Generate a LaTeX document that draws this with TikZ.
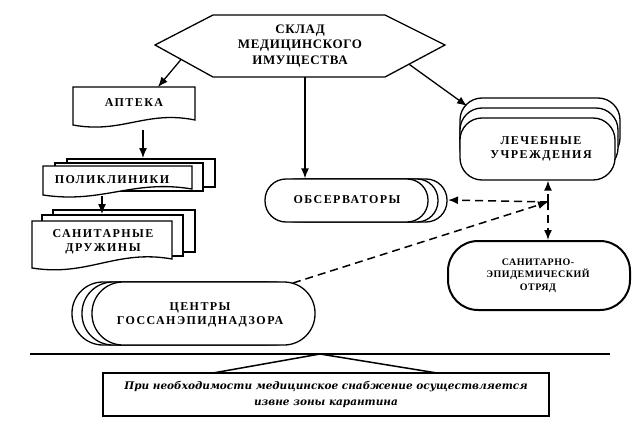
\documentclass[tikz,border=0pt]{standalone}
\usepackage{fontspec}
\setmainfont{Liberation Serif}
\newfontfamily\lblfont[LetterSpace=12]{Liberation Serif}
\newfontfamily\hexfont[LetterSpace=5]{Liberation Serif}
\newfontfamily\sepfont[LetterSpace=5]{Liberation Serif}
\newfontfamily\notefont{DejaVu Serif}
\usetikzlibrary{arrows.meta,calc}
\newcommand\docshape[5]{%
  \draw[box] (#1,#2) -- (#3,#2) -- (#3,#5)
    .. controls ({#1+0.6*(#3-#1)},{#5-10}) and ({#1+0.4*(#3-#1)},{#4+9}) .. (#1,#4) -- cycle;}
\begin{document}
\begin{tikzpicture}[x=1pt,y=-1pt,line width=1.3pt,
  box/.style={draw=black,fill=white},
  lbl/.style={font=\lblfont\bfseries\fontsize{12}{14}\selectfont,align=center,inner sep=0pt},
  stad/.style={box,inner sep=0pt},
  arr/.style={-{Latex[length=10pt,width=8pt]}},
  dsh/.style={arr,line width=1.5pt,dash pattern=on 8pt off 5pt},
]
\useasboundingbox (0,0) rectangle (642,433);

% hexagon
\draw[box] (155,45) coordinate (hexW) -- (213,15) -- (385,15) -- (445,45) coordinate (hexE)
  -- (385,77) coordinate (hexSE) -- (213,77) coordinate (hexSW) -- cycle;
\node[lbl,font=\hexfont\bfseries\fontsize{13}{15.5}\selectfont] (skl) at (300,46) {СКЛАД\\МЕДИЦИНСКОГО\\ИМУЩЕСТВА};
\coordinate (sklA) at ($(hexW)!0.45!(hexSW)$);
\coordinate (sklB) at ($(hexE)!0.6!(hexSE)$);
\coordinate (sklC) at (305,77);

% apteka
\docshape{73}{87}{195}{125}{120}
\node[lbl] (apt) at (134,103) {АПТЕКА};
\coordinate (aptT) at (158,87);
\coordinate (aptB) at (143,130);

% polikliniki
\draw[box] (67,159) rectangle (215,187);
\draw[box] (55,163) rectangle (203,191);
\docshape{43}{166}{192}{195}{189}
\node[lbl] (pol) at (112,180) {ПОЛИКЛИНИКИ};
\coordinate (polT) at (143,158);
\coordinate (polB) at (102,196);

% sanitarnye druzhiny
\draw[box] (53,210) rectangle (195,252);
\draw[box] (42,215) rectangle (183,256);
\docshape{32}{221}{172}{268}{259}
\node[lbl] (san) at (103,242) {САНИТАРНЫЕ\\ДРУЖИНЫ};
\coordinate (sanT) at (102,214);

% centry
\draw[box,rounded corners=31pt] (72,282) rectangle (295,345);
\draw[box,rounded corners=31pt] (82,282) rectangle (305,345);
\node[stad,rounded corners=31pt,minimum width=223pt,minimum height=63pt] (cgs) at (203.5,313.5) {};
\node[lbl] (cgst) at (200,315) {ЦЕНТРЫ\\ГОССАНЭПИДНАДЗОРА};
\coordinate (cgsNE) at (293,283);

% observatory
\draw[box,rounded corners=21pt] (284,179) rectangle (447,222);
\draw[box,rounded corners=21pt] (275,179) rectangle (438,222);
\node[stad,rounded corners=21pt,minimum width=163pt,minimum height=43pt] (obs) at (346.5,200.5) {};
\node[lbl] (obst) at (347,200) {ОБСЕРВАТОРЫ};
\coordinate (obsE) at (448,200);

% lechebnye
\draw[box,rounded corners=22pt] (460,98) rectangle (620,160);
\draw[box,rounded corners=22pt] (460,108) rectangle (618,170);
\node[stad,rounded corners=22pt,minimum width=155pt,minimum height=62pt] (lech) at (537.5,149) {};
\node[lbl] (lecht) at (541,148.5) {ЛЕЧЕБНЫЕ\\УЧРЕЖДЕНИЯ};
\coordinate (lechT) at (467,106);

% sanitarno-epid
\node[stad,line width=2pt,rounded corners=30pt,minimum width=182pt,minimum height=69pt] (sep) at (539,275.5) {};
\node[lbl,font=\sepfont\bfseries\fontsize{10}{12.5}\selectfont] (sept) at (538,275.5) {САНИТАРНО-\\ЭПИДЕМИЧЕСКИЙ\\ОТРЯД};

% junction
\coordinate (J) at (548,202);

% connectors
\draw[arr] (sklA) -- (aptT);
\draw[arr] (aptB) -- (polT);
\draw[arr] (polB) -- (sanT);
\draw[arr] (sklC) -- (sklC |- obs.north);
\draw[arr] (sklB) -- (lechT);
\draw[dsh] (J) -- (obsE);
\draw[dsh] (J) -- (J |- lech.south);
\draw[dsh] (J) -- (J |- sep.north);
\draw[dsh] (cgsNE) -- (J);

% bottom
\draw[line width=2pt] (30,354) coordinate (lineL) -- (610,354) coordinate (lineR);
\coordinate (apex) at (320,354);
\node[box,line width=1.5pt,minimum width=446pt,minimum height=43pt,inner sep=0pt] (note) at (326,394.5) {};
\node[font=\notefont\bfseries\itshape\fontsize{10.5}{16}\selectfont,align=center,inner sep=0pt] (notet) at (326,394) {При необходимости медицинское снабжение осуществляется\\извне зоны карантина};
\draw[line width=1.5pt] (213,373) -- (apex) -- (437,373);
\end{tikzpicture}
\end{document}
